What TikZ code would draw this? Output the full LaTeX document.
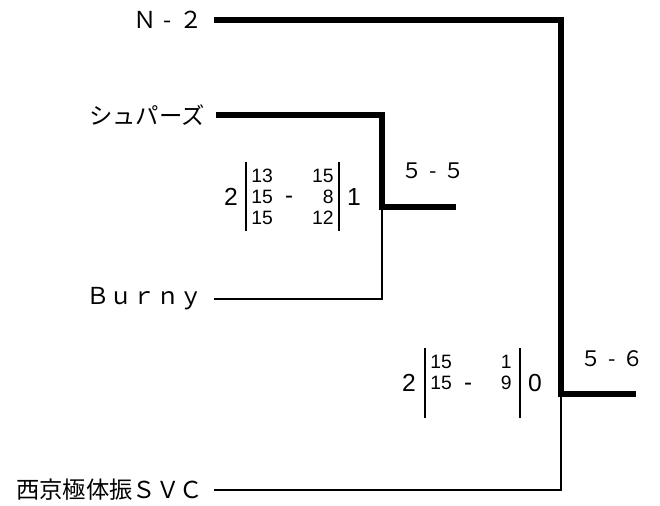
\documentclass[tikz,border=0pt]{standalone}
\usepackage{fontspec}
\setmainfont{Liberation Sans}
\newfontfamily\jpfont{Noto Sans CJK JP}
\usetikzlibrary{positioning}
\newcommand{\scoredash}{\hspace{0.32em}-\hspace{0.32em}}
\tikzstyle{teamLabel} = [anchor=east, inner sep=0pt, text=black,
	font=\jpfont\fontsize{17.5}{17.5}\selectfont]
\tikzstyle{winLine} = [line width=4.1pt, draw=black]
\tikzstyle{loseLine} = [line width=1.9pt, draw=black]
\tikzstyle{matchScore} = [inner sep=0pt, font=\jpfont\fontsize{16}{16}\selectfont]
\tikzstyle{setsWon} = [anchor=base, inner sep=0pt, font=\fontsize{18.5}{18.5}\selectfont]
\tikzstyle{pointsL} = [anchor=base west, inner sep=0pt, font=\fontsize{14.5}{14.5}\selectfont]
\tikzstyle{pointsR} = [anchor=base east, inner sep=0pt, font=\fontsize{14.5}{14.5}\selectfont]
\tikzstyle{pointsDash} = [anchor=base, inner sep=0pt, font=\fontsize{18}{18}\selectfont]
\tikzstyle{scoreBar} = [line width=2.2pt, draw=black]

\begin{document}
\begin{tikzpicture}[x=0.75pt, y=-0.75pt]
	\useasboundingbox (0,0) rectangle (660,506);
	% teams
	\node (N2) at (203,20) [teamLabel] {Ｎ\scoredash ２};
	\node (Spurs) at (205,115) [teamLabel] {シュパーズ};
	\node (Burny) at (203,299) [teamLabel] {Ｂｕｒｎｙ};
	\node (Saikyo) at (203,490) [teamLabel] {西京極体振ＳＶＣ};

	\coordinate (Semi) at (382,207);
	\coordinate (SemiEnd) at (456,207);
	\coordinate (Final) at (561,394);
	\coordinate (FinalEnd) at (636,394);

	% brackets
	\draw [loseLine, shorten <=8.25pt] (Burny.east) -| (Semi);
	\draw [loseLine, shorten <=8.25pt] (Saikyo.east) -| (Final);
	\draw [winLine, shorten <=8.25pt] (Spurs.east) -| (Semi) -- (SemiEnd);
	\draw [winLine, shorten <=8.25pt] (N2.east) -| (Final) -- (FinalEnd);

	\node (SemiScore) at (433,171) [matchScore] {５\scoredash ５};
	\node (FinalScore) at (612,359) [matchScore] {５\scoredash ６};

	% sets, semi final
	\node (SemiL) at (231,205.5) [setsWon] {2};
	\node (SemiR) at (354,205.5) [setsWon] {1};
	\draw [scoreBar] (246,162) -- (246,231);
	\draw [scoreBar] (339,162) -- (339,231);
	\node (SemiA1) at (251,182) [pointsL] {13};
	\node (SemiA2) at (251,203) [pointsL] {15};
	\node (SemiA3) at (251,224) [pointsL] {15};
	\node (SemiDash) at (289,204) [pointsDash] {-};
	\node (SemiB1) at (334,182) [pointsR] {15};
	\node (SemiB2) at (334,203) [pointsR] {8};
	\node (SemiB3) at (334,224) [pointsR] {12};

	% sets, final
	\node (FinalL) at (409,391.5) [setsWon] {2};
	\node (FinalR) at (535,391.5) [setsWon] {0};
	\draw [scoreBar] (425,348) -- (425,418);
	\draw [scoreBar] (520,348) -- (520,418);
	\node (FinalA1) at (430,368) [pointsL] {15};
	\node (FinalA2) at (430,389) [pointsL] {15};
	\node (FinalDash) at (468,390) [pointsDash] {-};
	\node (FinalB1) at (512,368) [pointsR] {1};
	\node (FinalB2) at (512,389) [pointsR] {9};
\end{tikzpicture}
\end{document}
